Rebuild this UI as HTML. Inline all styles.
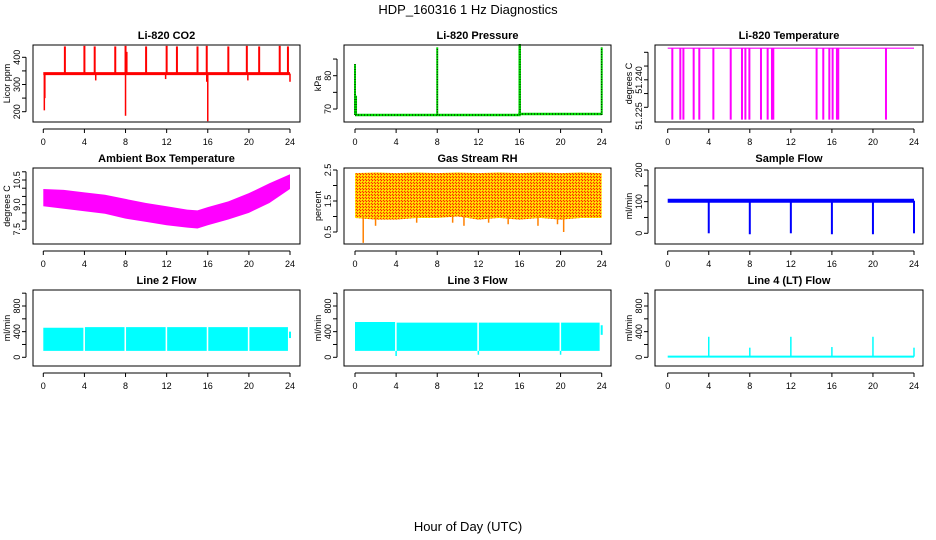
<!DOCTYPE html>
<html><head><meta charset="utf-8"><style>
html,body{margin:0;padding:0;background:#fff;}
svg{display:block;font-family:"Liberation Sans",sans-serif;}
</style></head><body>
<svg id="chart" width="936" height="540" viewBox="0 0 936 540" xmlns="http://www.w3.org/2000/svg">
<defs>
<pattern id="rhpat" width="3" height="3" patternUnits="userSpaceOnUse">
<rect width="3" height="3" fill="#ffc000"/><rect width="1" height="1" fill="#ff2000"/><rect x="1" y="1" width="1" height="1" fill="#ffff00"/><rect x="2" y="2" width="1" height="1" fill="#ff3000"/>
</pattern>
</defs>
<text x="468" y="14" text-anchor="middle" font-size="13">HDP_160316  1 Hz Diagnostics</text>
<text x="468" y="531" text-anchor="middle" font-size="13">Hour of Day (UTC)</text>
</svg>
<script>
// ---------- data ----------
const hourTicks = [0,4,8,12,16,20,24];
// CO2
const co2Base = 340;
const co2SpikeHours = [2.1,4.0,5.0,7.0,8.0,8.1,10.0,12.0,13.0,15.0,15.9,18.0,19.8,21.0,23.0,23.8];
const co2SpikeValues = [440,442,440,440,442,420,440,442,440,440,442,440,442,440,442,440];
const co2DipHours = [0.1,0.15,8.0,16.0,15.9,24.0,5.1,11.9,19.9];
const co2DipValues = [205,250,185,165,310,310,315,320,315];
// Pressure
const presBaseHours = [0,16,16,24];
const presBaseValues = [68.2,68.2,68.5,68.5];
const presSpikeHours = [0,0.1,8,16,16.05,24];
const presSpikeValues = [83.5,74,88.5,89.5,89.5,88.5];
// Li-820 temperature
const ltTop = 51.2465;
const ltDipHours = [0.45,1.23,1.53,2.53,3.08,4.45,6.14,7.24,7.57,7.96,9.09,9.74,10.16,10.29,14.51,15.16,15.75,16.07,16.49,16.62,21.27];
const ltDipValue = 51.2205;
// Ambient box temperature
const ambHours = [0,2,4,6,8,10,12,14,15,16,18,20,22,24];
const ambHigh = [9.95,9.9,9.75,9.6,9.35,9.1,8.9,8.7,8.65,8.85,9.2,9.7,10.3,10.85];
const ambLow = [8.9,8.75,8.6,8.45,8.15,7.95,7.75,7.6,7.55,7.75,8.1,8.5,9.1,9.95];
// Gas stream RH
const rhHours = [0,2,4,6,8,10,12,14,16,18,20,22,24];
const rhHigh = [2.4,2.42,2.4,2.42,2.4,2.42,2.4,2.42,2.4,2.42,2.4,2.42,2.4];
const rhLow = [0.95,0.9,0.9,0.95,0.95,1.0,0.9,0.95,0.9,0.95,0.9,0.95,0.95];
const rhDipHours = [0.8,2.0,6.0,9.5,10.6,13.0,14.9,17.8,19.7,20.3];
const rhDipValues = [0.15,0.7,0.8,0.8,0.7,0.8,0.75,0.7,0.75,0.5];
// Sample flow
const sfBase = 103;
const sfDipHours = [4,8,12,16,20,24];
const sfDipValues = [0,-3,0,-3,-3,0];
// Line flows
const l2Hours = [0,3.9,4.05,7.9,8.05,11.9,12.05,15.9,16.05,19.9,20.05,23.8];
const l2High = [460,460,470,470,470,470,470,470,470,470,470,470];
const l2Low = [100,100,100,100,100,100,100,100,100,100,100,100];
const l3Hours = [0,3.9,4.05,11.9,12.05,19.9,20.05,23.8];
const l3High = [550,550,540,540,540,540,540,540];
const l3Low = [100,100,100,100,100,100,100,100];
const l3DipHours = [4,12,20];
const l3DipValues = [20,40,40];
const l4Base = 10;
const l4SpikeHours = [4,8,12,16,20,24];
const l4SpikeValues = [320,150,320,160,320,150];

// ---------- helpers ----------
const svg = document.getElementById('chart');
const NS = 'http://www.w3.org/2000/svg';
function mk(tag, attrs, parent){
  const e = document.createElementNS(NS, tag);
  for (const k in attrs) e.setAttribute(k, attrs[k]);
  (parent||svg).appendChild(e);
  return e;
}
function panel(cfg){
  const g = mk('g', {});
  
  
  const xs = h => cfg.x0 + (cfg.x24 - cfg.x0) * h / 24;
  const ys = v => cfg.p0 + (cfg.p1 - cfg.p0) * (v - cfg.v0) / (cfg.v1 - cfg.v0);
  const t = mk('text', {x:(cfg.L+cfg.R)/2, y:cfg.T-6, 'text-anchor':'middle', 'font-size':11, 'font-weight':'bold'}, g);
  t.textContent = cfg.title;
  
  
  const xa = mk('g', {stroke:'#000','stroke-width':1}, g);
  
  
  mk('line', {x1:xs(0), x2:xs(24), y1:cfg.B+7, y2:cfg.B+7}, xa);
  hourTicks.forEach(h => {
    mk('line', {x1:xs(h), x2:xs(h), y1:cfg.B+7, y2:cfg.B+11}, xa);
    const tl = mk('text', {x:xs(h), y:cfg.B+23, 'text-anchor':'middle', 'font-size':9, stroke:'none'}, g);
    tl.textContent = h;
    
    
  });
  const ya = mk('g', {stroke:'#000','stroke-width':1}, g);
  
  
  const ax = cfg.L - 7;
  mk('line', {x1:ax, x2:ax, y1:ys(cfg.yticks[0]), y2:ys(cfg.yticks[cfg.yticks.length-1])}, ya);
  cfg.yticks.forEach(v => mk('line', {x1:ax-4, x2:ax, y1:ys(v), y2:ys(v)}, ya));
  cfg.ylabels.forEach((lab, i) => {
    const py = cfg.ylabelPos ? cfg.ylabelPos[i] : ys(Number(lab));
    const tl = mk('text', {x:0, y:0, 'text-anchor':'middle', 'font-size':9, transform:`translate(${ax-6},${py}) rotate(-90)`}, g);
    tl.textContent = lab;
    
    
  });
  const yt = mk('text', {x:0,y:0,'text-anchor':'middle','font-size':9, transform:`translate(${cfg.L-23},${(cfg.T+cfg.B)/2}) rotate(-90)`}, g);
  yt.textContent = cfg.ylab;
  
  
  const plot = mk('g', {}, g);
  
  
  cfg.draw(plot, xs, ys);
  const box = mk('rect', {x:cfg.L, y:cfg.T, width:cfg.R-cfg.L, height:cfg.B-cfg.T, fill:'none', stroke:'#000'}, g);
  
  
}
function vline(p, x, y1, y2, col, w, name){
  const l = mk('line', {x1:x, x2:x, y1:y1, y2:y2, stroke:col, 'stroke-width':w||1}, p);
  
  
  return l;
}
function band(p, xs, ys, hrs, hi, lo, fill, name){
  let d = hrs.map((h,i)=>(i?'L':'M')+xs(h)+','+ys(hi[i])).join('');
  for (let i = hrs.length-1; i >= 0; i--) d += 'L'+xs(hrs[i])+','+ys(lo[i]);
  const e = mk('path', {d:d+'Z', fill:fill}, p);
  
  
}
const C1 = {L:33,R:300,x0:43.3,x24:290}, C2 = {L:344,R:611,x0:355,x24:601.7}, C3 = {L:655,R:923,x0:667.7,x24:914};
const R1 = {T:45,B:122}, R2 = {T:168,B:244}, R3 = {T:290,B:366};

panel(Object.assign({name:'co2-panel', title:'Li-820 CO2', ylab:'Licor ppm', v0:200,p0:111.7,v1:400,p1:57.3, yticks:[200,250,300,350,400], ylabels:['200','300','400'],
  draw:(p,xs,ys)=>{
    const b = mk('line',{x1:xs(0),x2:xs(24),y1:ys(co2Base),y2:ys(co2Base),stroke:'red','stroke-width':3},p);
     
    co2SpikeHours.forEach((h,i)=>vline(p, xs(h), ys(co2Base), ys(co2SpikeValues[i]), 'red', 2, 'co2-spike'));
    co2DipHours.forEach((h,i)=>vline(p, xs(h), ys(co2Base), ys(co2DipValues[i]), 'red', 1.5, 'co2-dip'));
  }}, C1, R1));

panel(Object.assign({name:'pressure-panel', title:'Li-820 Pressure', ylab:'kPa', v0:70,p0:109,v1:80,p1:75.7, yticks:[70,75,80,85], ylabels:['70','80'],
  draw:(p,xs,ys)=>{
    const d = presBaseHours.map((h,i)=>(i?'L':'M')+xs(h)+','+ys(presBaseValues[i])).join('');
    const e = mk('path',{d:d,fill:'none',stroke:'#00dd00','stroke-width':2.5},p);
     
    const e2 = mk('path',{d:d,fill:'none',stroke:'#000','stroke-width':1,'stroke-dasharray':'1,2'},p);
     
    presSpikeHours.forEach((h,i)=>{
      vline(p, xs(h), ys(presBaseValues[0]), ys(presSpikeValues[i]), '#00dd00', 2, 'pressure-spike');
      vline(p, xs(h), ys(presBaseValues[0]), ys(presSpikeValues[i]), '#000', 1, 'pressure-spike-dots').setAttribute('stroke-dasharray','1,1.5');
    });
  }}, C2, R1));

panel(Object.assign({name:'li820-temp-panel', title:'Li-820 Temperature', ylab:'degrees C', v0:51.225,p0:107.3,v1:51.245,p1:52.3, yticks:[51.225,51.23,51.235,51.24,51.245], ylabels:['51.225','51.240'], ylabelPos:[116,80],
  draw:(p,xs,ys)=>{
    const l = mk('line',{x1:xs(0),x2:xs(24),y1:ys(ltTop),y2:ys(ltTop),stroke:'#ff00ff','stroke-width':1.2},p);
     
    ltDipHours.forEach(h=>vline(p, xs(h), ys(ltTop), ys(ltDipValue), '#ff00ff', 2, 'li820-temp-dip'));
  }}, C3, R1));

panel(Object.assign({name:'ambient-temp-panel', title:'Ambient Box Temperature', ylab:'degrees C', v0:7.5,p0:229.3,v1:10.5,p1:180, yticks:[7.5,8,8.5,9,9.5,10,10.5,11], ylabels:['7.5','9.0','10.5'],
  draw:(p,xs,ys)=>band(p,xs,ys,ambHours,ambHigh,ambLow,'#ff00ff','ambient-temp-band')}, C1, R2));

panel(Object.assign({name:'rh-panel', title:'Gas Stream RH', ylab:'percent', v0:0.5,p0:232,v1:2.5,p1:170, yticks:[0.5,1,1.5,2,2.5], ylabels:['0.5','1.5','2.5'],
  draw:(p,xs,ys)=>{
    band(p,xs,ys,rhHours,rhHigh,rhLow,'url(#rhpat)','rh-band');
    rhDipHours.forEach((h,i)=>vline(p, xs(h), ys(1.0), ys(rhDipValues[i]), '#ff8000', 1.5, 'rh-dip'));
  }}, C2, R2));

panel(Object.assign({name:'sample-flow-panel', title:'Sample Flow', ylab:'ml/min', v0:0,p0:233.3,v1:200,p1:170, yticks:[0,50,100,150,200], ylabels:['0','100','200'],
  draw:(p,xs,ys)=>{
    const l = mk('line',{x1:xs(0),x2:xs(24),y1:ys(sfBase),y2:ys(sfBase),stroke:'#0000ff','stroke-width':4},p);
     
    sfDipHours.forEach((h,i)=>vline(p, xs(h), ys(sfBase), ys(sfDipValues[i]), '#0000ff', 2, 'sample-flow-dip'));
  }}, C3, R2));

const flowTicks = [0,200,400,600,800,1000];
panel(Object.assign({name:'line2-flow-panel', title:'Line 2 Flow', ylab:'ml/min', v0:0,p0:357.3,v1:800,p1:306, yticks:flowTicks, ylabels:['0','400','800'],
  draw:(p,xs,ys)=>{
    for (let i = 0; i < l2Hours.length; i += 2)
      band(p,xs,ys,[l2Hours[i],l2Hours[i+1]],[l2High[i],l2High[i+1]],[l2Low[i],l2Low[i+1]],'#00ffff','line2-flow-band');
    vline(p, xs(24), ys(300), ys(400), '#00ffff', 2, 'line2-flow-tail');
  }}, C1, R3));

panel(Object.assign({name:'line3-flow-panel', title:'Line 3 Flow', ylab:'ml/min', v0:0,p0:357.3,v1:800,p1:306, yticks:flowTicks, ylabels:['0','400','800'],
  draw:(p,xs,ys)=>{
    for (let i = 0; i < l3Hours.length; i += 2)
      band(p,xs,ys,[l3Hours[i],l3Hours[i+1]],[l3High[i],l3High[i+1]],[l3Low[i],l3Low[i+1]],'#00ffff','line3-flow-band');
    l3DipHours.forEach((h,i)=>vline(p, xs(h), ys(100), ys(l3DipValues[i]), '#00ffff', 1.5, 'line3-flow-dip'));
    vline(p, xs(24), ys(350), ys(500), '#00ffff', 2, 'line3-flow-tail');
  }}, C2, R3));

panel(Object.assign({name:'line4-flow-panel', title:'Line 4 (LT) Flow', ylab:'ml/min', v0:0,p0:357.3,v1:800,p1:306, yticks:flowTicks, ylabels:['0','400','800'],
  draw:(p,xs,ys)=>{
    const l = mk('line',{x1:xs(0),x2:xs(24),y1:ys(l4Base),y2:ys(l4Base),stroke:'#00ffff','stroke-width':2},p);
     
    l4SpikeHours.forEach((h,i)=>vline(p, xs(h), ys(l4Base), ys(l4SpikeValues[i]), '#00ffff', 1.5, 'line4-flow-spike'));
  }}, C3, R3));
</script>
</body></html>
